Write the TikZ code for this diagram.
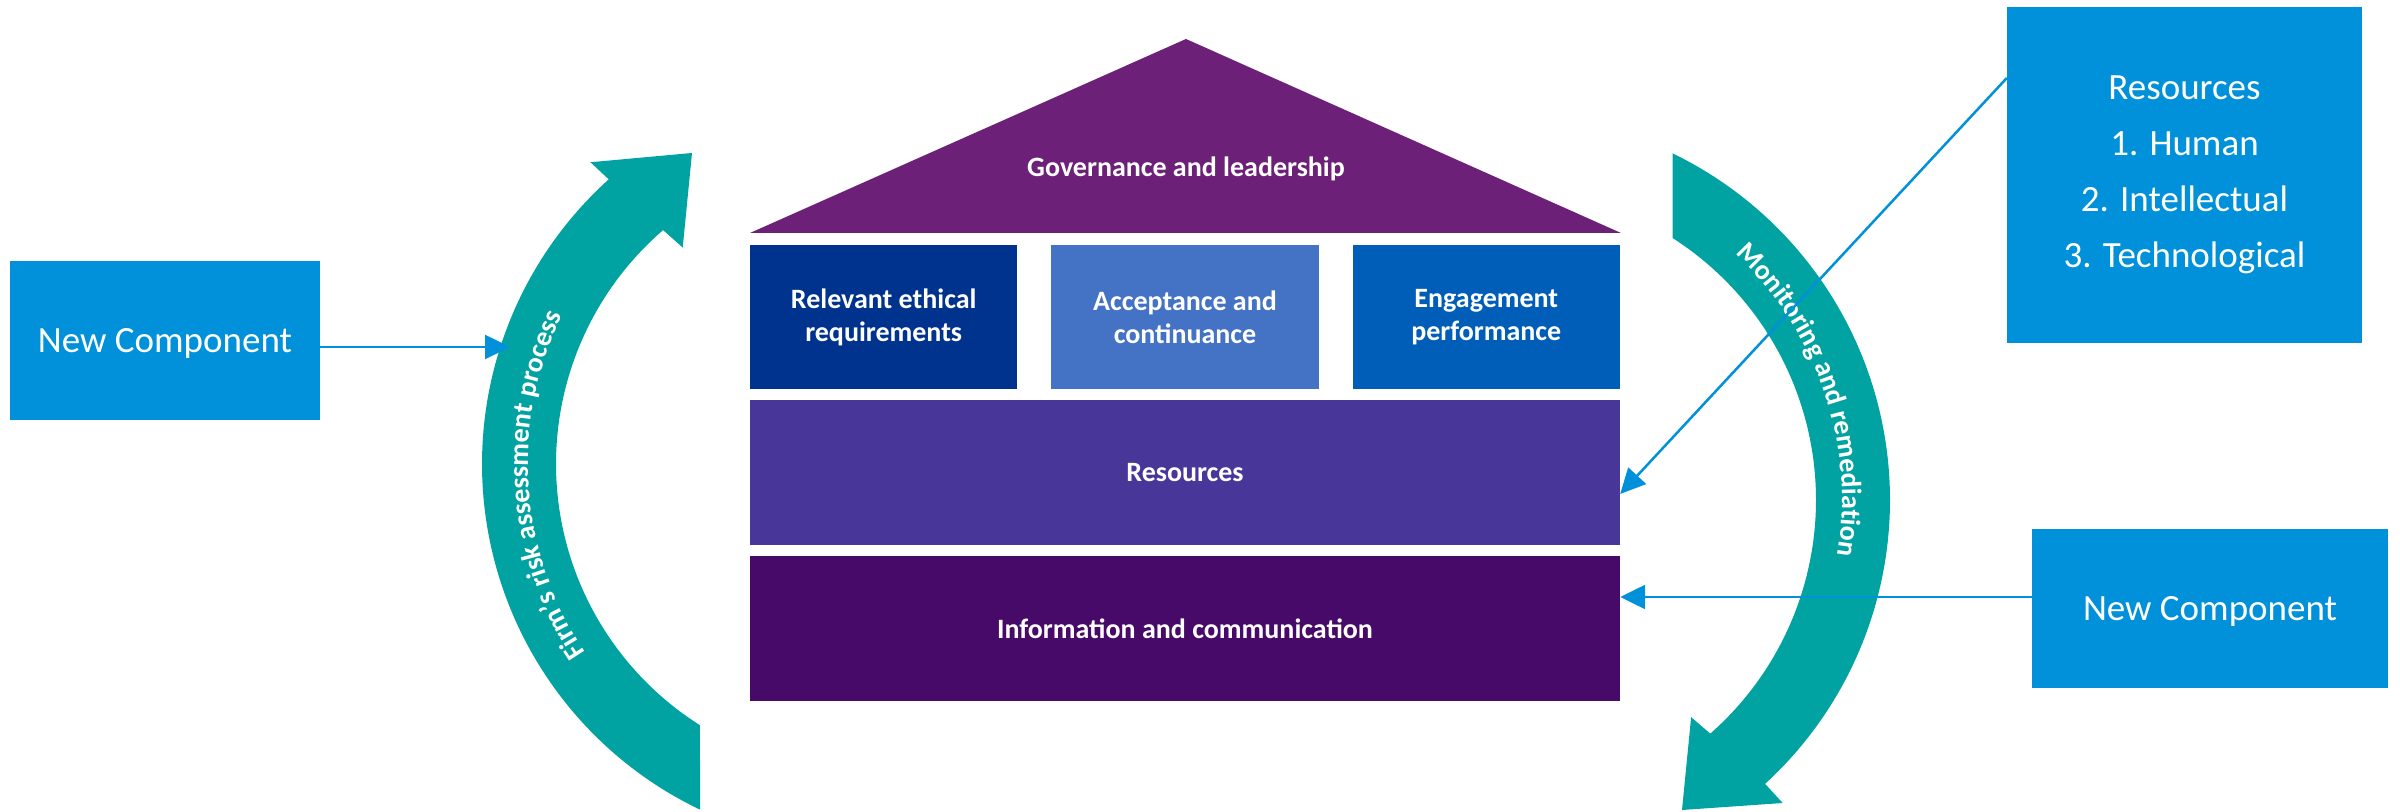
\documentclass[tikz,border=0pt]{standalone}
\usepackage{fontspec}
\setmainfont{Carlito}
\usetikzlibrary{calc,arrows.meta,decorations.text}
\definecolor{kteal}{HTML}{00A3A1}
\definecolor{kpurple}{HTML}{6D2077}
\definecolor{kblue}{HTML}{00338D}
\definecolor{kaccent}{HTML}{4472C4}
\definecolor{kmed}{HTML}{005EB8}
\definecolor{kviolet}{HTML}{483698}
\definecolor{kdpurple}{HTML}{470A68}
\definecolor{klight}{HTML}{0091DA}
\newcommand{\arcfont}{\fontsize{28}{28}\selectfont\bfseries}
\tikzset{
  bluebox/.style={fill=klight, text=white, font=\fontsize{37}{56}\selectfont, align=center, inner sep=0pt},
  housebox/.style={text=white, font=\fontsize{28}{33}\selectfont\bfseries, align=center, inner sep=0pt},
  conn/.style={draw=klight, line width=2.5pt, -{Triangle[length=25pt,width=24pt]}},
  arcband/.style={fill=kteal},
}
\begin{document}
\begin{tikzpicture}[x=1pt,y=1pt]
\useasboundingbox (0,0) rectangle (2400,811);
% ---- left circular arrow
\coordinate (lc) at (865,347);
\fill[arcband] ($(lc)+(244.5:383pt)$) arc[start angle=244.5, end angle=132, radius=383pt]
  -- ($(lc)+(132.3:408pt)$) -- (692,658) -- ($(lc)+(130.1:283pt)$)
  -- ($(lc)+(130.8:309pt)$) arc[start angle=130.8, end angle=237.7, radius=309pt] -- cycle;
\path[decorate, decoration={text along path, text={|\arcfont|Firm's risk assessment process}, text align=center, text color=white}]
  ($(lc)+(243.9:337pt)$) arc[start angle=243.9, end angle=123.9, radius=337pt];
% ---- right circular arrow
\coordinate (rc) at (1505,311);
\fill[arcband] ($(rc)+(64.2:385pt)$) arc[start angle=64.2, end angle=-47.5, radius=385pt]
  -- ($(rc)+(-47.5:411pt)$) -- (1682,1) -- ($(rc)+(-49.4:286pt)$)
  -- ($(rc)+(-48.7:311pt)$) arc[start angle=-48.7, end angle=57.4, radius=311pt] -- cycle;
\path[decorate, decoration={text along path, text={|\arcfont|Monitoring and remediation}, text align=center, text color=white}]
  ($(rc)+(78.7:337pt)$) arc[start angle=78.7, end angle=-41.3, radius=337pt];
% ---- house
\fill[kpurple] (750,578) -- (1621,578) -- (1186,772) -- cycle;
\node[housebox, anchor=base] (gov) at (1186,634) {Governance and leadership};
\node[housebox, fill=kblue, minimum width=267.3pt, minimum height=144pt] (relev) at (883.7,494) {Relevant ethical\\requirements};
\node[housebox, fill=kaccent, minimum width=267.3pt, minimum height=144pt] (accept) at (1185,494) {Acceptance and\\continuance};
\node[housebox, fill=kmed, minimum width=267.3pt, minimum height=144pt] (engage) at (1486.3,494) {Engagement\\performance};
\node[housebox, fill=kviolet, minimum width=870pt, minimum height=145pt, text depth=0pt] (resbar) at (1185,338.5) {Resources};
\node[housebox, fill=kdpurple, minimum width=870pt, minimum height=145pt, text depth=0pt] (infobar) at (1185,182.5) {Information and communication};
% ---- blue boxes
\node[bluebox, minimum width=310pt, minimum height=159pt, text depth=0pt] (lbox) at (165,470.5) {New Component};
\node[bluebox, minimum width=355pt, minimum height=336pt] (rres) at (2184.5,636) {Resources\\1. Human\\2. Intellectual\\3. Technological};
\node[bluebox, minimum width=356pt, minimum height=159pt, text depth=0pt] (rnew) at (2210,202.5) {New Component};
% ---- connectors
\coordinate (lin) at (510,464);
\draw[conn] (lbox.east |- lin) -- (lin);
\draw[conn] ([yshift=97pt]rres.west) -- ([yshift=-21.5pt]resbar.east);
\draw[conn] ([yshift=11.5pt]rnew.west) -- ([yshift=31.5pt]infobar.east);
\end{tikzpicture}
\end{document}
